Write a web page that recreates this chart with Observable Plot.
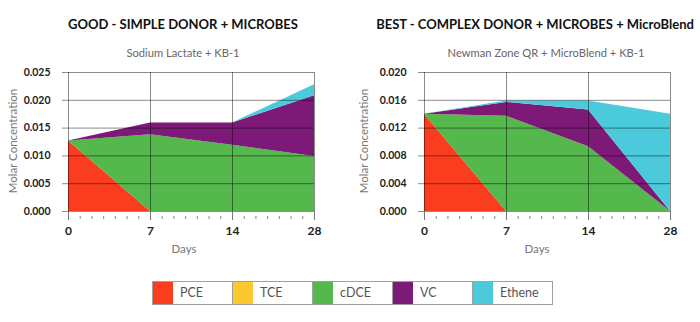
<!DOCTYPE html>
<html><head><meta charset="utf-8">
<script src="https://cdn.jsdelivr.net/npm/d3@7"></script>
<script src="https://cdn.jsdelivr.net/npm/@observablehq/plot@0.6"></script>
<style>
body{margin:0;background:#fff;font-family:Lato,sans-serif;}
#wrap{position:relative;width:700px;height:322px;overflow:hidden;background:#fff;}
.title{position:absolute;transform:translate(-50%,-50%);white-space:nowrap;font-weight:700;font-size:13px;color:#111;}
.sub{position:absolute;transform:translate(-50%,-50%);white-space:nowrap;font-size:11.2px;color:#666;}
.axl{position:absolute;white-space:nowrap;font-size:11.5px;color:#777;}
.panel{position:absolute;top:0;}
#legend{position:absolute;left:152px;top:281px;display:flex;border:1px solid #a0a0a0;border-right:none;height:22px;}
.item{display:flex;width:79px;border-right:1px solid #a0a0a0;}
.sw{width:20px;height:100%;}
.lab{padding-left:7px;line-height:22px;font-size:12.5px;color:#555;}
</style></head>
<body>
<div id="wrap"></div>
<script>
const days = ["0", "7", "14", "28"];
const species = ["PCE", "TCE", "cDCE", "VC", "Ethene"];
const colors = ["#f93d1e", "#fcc830", "#54b84c", "#7d1a77", "#4bcadc"];
const xLabel = "Days";
const yLabel = "Molar Concentration";

// GOOD panel (Sodium Lactate + KB-1)
const goodTitle = "GOOD - SIMPLE DONOR + MICROBES";
const goodSubtitle = "Sodium Lactate + KB-1";
const goodPCE = [0.0127, 0, 0, 0];
const goodTCE = [0, 0, 0, 0];
const goodCDCE = [0, 0.0138, 0.0119, 0.0099];
const goodVC = [0, 0.0021, 0.0040, 0.0109];
const goodEthene = [0, 0, 0, 0.0020];
const goodYTicks = [0, 0.005, 0.010, 0.015, 0.020, 0.025];

// BEST panel (Newman Zone QR + MicroBlend + KB-1)
const bestTitle = "BEST - COMPLEX DONOR + MICROBES + MicroBlend";
const bestSubtitle = "Newman Zone QR + MicroBlend + KB-1";
const bestPCE = [0.0140, 0, 0, 0];
const bestTCE = [0, 0, 0, 0];
const bestCDCE = [0, 0.0137, 0.0093, 0];
const bestVC = [0, 0.0020, 0.0053, 0];
const bestEthene = [0, 0.0002, 0.0013, 0.0140];
const bestYTicks = [0, 0.004, 0.008, 0.012, 0.016, 0.020];

function rows(series) {
  const out = [];
  species.forEach((s, k) => series[k].forEach((v, i) => out.push({i, species: s, value: v})));
  return out;
}
const minor = [];
for (let a = 0; a < days.length - 1; a++) for (let k = 1; k < 7; k++) minor.push(a + k / 7);

function chart(data, yTicks, ml, mr) {
  const line = {stroke: "#000", strokeOpacity: 0.45};
  const majorX = days.map((d, i) => i);
  return Plot.plot({
    width: 350, height: 260, marginTop: 72, marginBottom: 49, marginLeft: ml, marginRight: mr,
    style: {fontFamily: "Lato, sans-serif", background: "transparent"},
    x: {domain: [0, days.length - 1]},
    y: {domain: [0, yTicks[yTicks.length - 1]]},
    color: {domain: species, range: colors},
    marks: [
      Plot.areaY(data, {x: "i", y: "value", fill: "species"}),
      Plot.gridY(yTicks, line),
      Plot.gridX(majorX, line),
      Plot.axisY(yTicks, {tickSize: 6, tickPadding: 12, tickFormat: d3.format(".3f"), fontWeight: 700, fontSize: 10.5, fill: "#222", ...line, label: null}),
      Plot.axisX(majorX, {tickSize: 9, tickPadding: 6, tickFormat: i => days[i], fontWeight: 700, fontSize: 12, fill: "#222", stroke: "#777", label: null}),
      Plot.axisX({ticks: minor, tickSize: 3, dy: 5, tickFormat: () => "", stroke: "#888", label: null})
    ]
  });
}

const wrap = document.getElementById("wrap");
function addText(cls, text, x, y, rot) {
  const d = document.createElement("div");
  d.className = cls; d.textContent = text;
  d.style.left = x + "px"; d.style.top = y + "px";
  d.style.transform = "translate(-50%,-50%)" + (rot ? " rotate(-90deg)" : "");
  wrap.appendChild(d);
}
function addPanel(left, svg, title, tx, sub, sx, ly, dx) {
  const p = document.createElement("div");
  p.className = "panel"; p.style.left = left + "px";
  p.appendChild(svg);
  wrap.appendChild(p);
  addText("title", title, tx, 24);
  addText("sub", sub, sx, 52);
  addText("axl", yLabel, ly, 141, true);
  addText("axl", xLabel, dx, 248);
}
addPanel(0, chart(rows([goodPCE, goodTCE, goodCDCE, goodVC, goodEthene]), goodYTicks, 68, 36), goodTitle, 183, goodSubtitle, 183, 12, 184);
addPanel(350, chart(rows([bestPCE, bestTCE, bestCDCE, bestVC, bestEthene]), bestYTicks, 74, 30), bestTitle, 535, bestSubtitle, 546, 363, 537);

const legend = document.createElement("div");
legend.id = "legend";
species.forEach((s, k) => {
  const it = document.createElement("div"); it.className = "item";
  const sw = document.createElement("div"); sw.className = "sw"; sw.style.background = colors[k];
  const lb = document.createElement("div"); lb.className = "lab"; lb.textContent = s;
  it.appendChild(sw); it.appendChild(lb); legend.appendChild(it);
});
wrap.appendChild(legend);
</script>
</body></html>
